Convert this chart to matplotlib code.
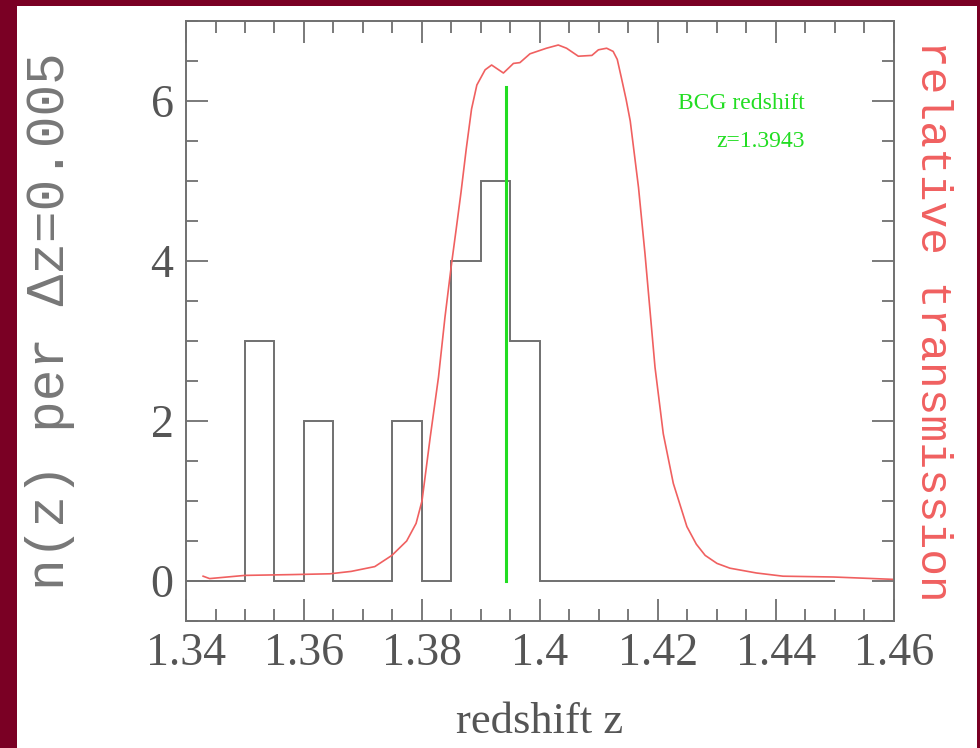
import numpy as np
import matplotlib
matplotlib.use("Agg")
import matplotlib.pyplot as plt
from matplotlib.patches import Rectangle
from matplotlib.ticker import MultipleLocator, FuncFormatter

# histogram of galaxy redshifts, bin width 0.005
bin_edges = np.round(1.34 + 0.005 * np.arange(23), 3)
counts = [0, 0, 3, 0, 2, 0, 0, 2, 0, 4, 5, 3,
          0, 0, 0, 0, 0, 0, 0, 0, 0, 0]

# filter transmission curve (scaled to the n(z) axis)
trans_z = [1.3429, 1.3440, 1.3500, 1.3580, 1.3644, 1.3680, 1.3720, 1.3749,
           1.3774, 1.3790, 1.3800, 1.3814, 1.3828, 1.3839, 1.3850, 1.3858,
           1.3866, 1.3875, 1.3884, 1.3893, 1.3907, 1.3918, 1.3928, 1.3938,
           1.3948, 1.3955, 1.3966, 1.3983, 1.4011, 1.4031, 1.4045, 1.4065,
           1.4088, 1.4099, 1.4113, 1.4124, 1.4131, 1.4138, 1.4146, 1.4153,
           1.4167, 1.4178, 1.4195, 1.4209, 1.4226, 1.4249, 1.4265, 1.4280,
           1.4300, 1.4322, 1.4367, 1.4412, 1.4497, 1.4600]
trans_y = [0.06, 0.03, 0.07, 0.08, 0.09, 0.12, 0.18, 0.32,
           0.50, 0.72, 1.00, 1.80, 2.55, 3.30, 3.96, 4.40,
           4.85, 5.40, 5.90, 6.20, 6.39, 6.45, 6.40, 6.35,
           6.42, 6.47, 6.48, 6.59, 6.66, 6.70, 6.66, 6.56,
           6.57, 6.64, 6.66, 6.62, 6.52, 6.29, 6.02, 5.75,
           4.92, 4.09, 2.67, 1.84, 1.22, 0.68, 0.46, 0.32,
           0.22, 0.16, 0.10, 0.06, 0.05, 0.02]

bcg_z = 1.3943
bcg_top = 6.18

gray = "#707070"
red = "#f06060"
green = "#22dd22"

fig = plt.figure(figsize=(9.8, 7.48), dpi=100)
fig.patch.set_facecolor("#7a0024")
fig.add_artist(Rectangle((17 / 980, 0), 960 / 980, 742 / 748,
                         transform=fig.transFigure, facecolor="white",
                         edgecolor="none", zorder=0))

ax = fig.add_axes([0.1898, 0.1698, 0.7224, 0.8021])
ax.set_facecolor("white")

ax.stairs(counts, bin_edges, color=gray, linewidth=1.4, baseline=0)
ax.plot(trans_z, trans_y, color=red, linewidth=1.2)
ax.plot([bcg_z, bcg_z], [0, bcg_top], color=green, linewidth=2.2)

ax.text(1.4449, 5.97, "BCG redshift", color=green, fontsize=17,
        family="Liberation Serif", ha="right", va="center")
ax.text(1.4449, 5.50, "z=1.3943", color=green, fontsize=17,
        family="Liberation Serif", ha="right", va="center")

ax.set_xlim(1.34, 1.46)
ax.set_ylim(-0.5, 7)
ax.xaxis.set_major_locator(MultipleLocator(0.02))
ax.xaxis.set_minor_locator(MultipleLocator(0.005))
ax.yaxis.set_major_locator(MultipleLocator(2))
ax.yaxis.set_minor_locator(MultipleLocator(0.5))
ax.xaxis.set_major_formatter(FuncFormatter(lambda v, p: "%g" % round(v, 3)))

for s in ax.spines.values():
    s.set_color(gray)
    s.set_linewidth(1.4)

ax.tick_params(which="both", direction="in", top=True, right=True,
               color=gray, width=1.3)
ax.tick_params(which="major", length=16)
ax.tick_params(which="minor", length=8.5)
ax.tick_params(axis="x", which="major", pad=8, labelsize=33, labelcolor="#555555")
ax.tick_params(axis="y", which="major", pad=9, labelsize=33, labelcolor="#555555")
for lab in ax.get_xticklabels() + ax.get_yticklabels():
    lab.set_family("Liberation Serif")

ax.set_xlabel("redshift z", fontsize=32, family="Liberation Serif", color="#555555")
ax.xaxis.set_label_coords(0.5, -0.135)
ax.set_ylabel("n(z) per \u0394z=0.005", fontsize=38, family="Liberation Mono",
              color="#777777")
ax.yaxis.set_label_coords(-0.157, 0.5)

fig.text(932 / 980, 1 - 321 / 748, "relative transmission", color=red,
         fontsize=32, family="Liberation Mono", rotation=-90,
         ha="center", va="center")

fig.savefig("out.png", dpi=100, facecolor=fig.get_facecolor())
